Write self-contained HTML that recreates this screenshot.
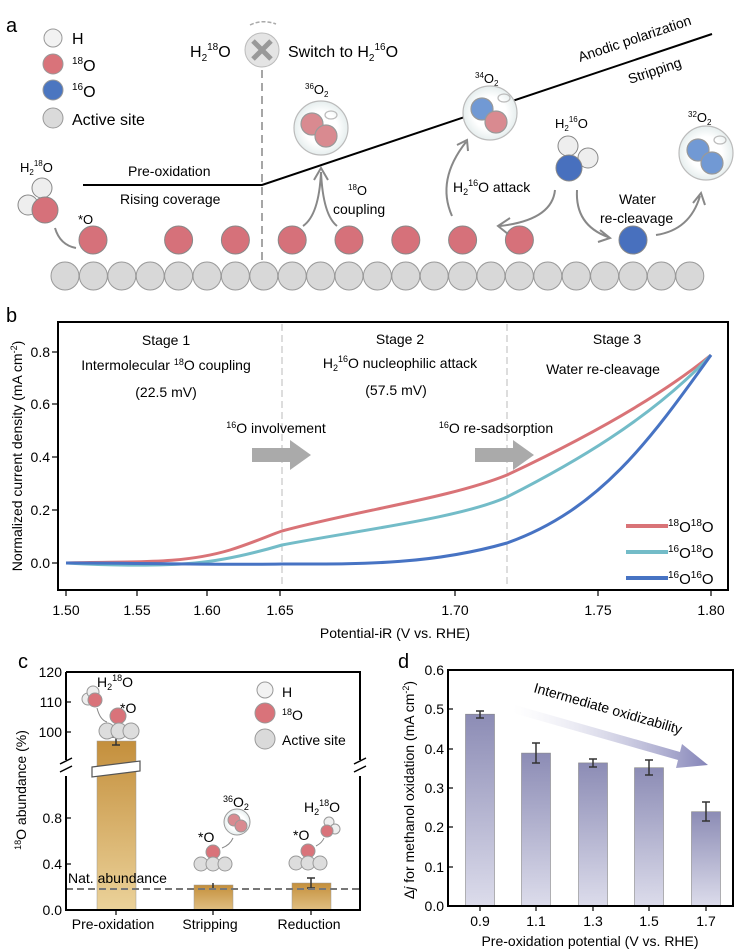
<!DOCTYPE html>
<html><head><meta charset="utf-8"><style>
body{margin:0;background:#fff}
svg{display:block;font-family:"Liberation Sans",sans-serif}
</style></head><body>
<svg width="748" height="952" viewBox="0 0 748 952" xmlns="http://www.w3.org/2000/svg">
<defs>
<radialGradient id="bub" cx="50%" cy="50%" r="50%"><stop offset="0.6" stop-color="#fff"/><stop offset="1" stop-color="#e6eeee"/></radialGradient>
<linearGradient id="gold" x1="0" y1="0" x2="0" y2="1"><stop offset="0" stop-color="#c48f3c"/><stop offset="1" stop-color="#ebd29a"/></linearGradient>
<linearGradient id="gold2" x1="0" y1="0" x2="0" y2="1"><stop offset="0" stop-color="#c48f3c"/><stop offset="1" stop-color="#e0bf82"/></linearGradient>
<linearGradient id="pur" x1="0" y1="0" x2="0" y2="1"><stop offset="0" stop-color="#8c8cb5"/><stop offset="1" stop-color="#dcdceb"/></linearGradient>
<linearGradient id="arr" x1="0" y1="0" x2="1" y2="0"><stop offset="0" stop-color="#fff" stop-opacity="0.3"/><stop offset="1" stop-color="#8484b8"/></linearGradient>
</defs>

<!-- ===== Panel a ===== -->
<text x="6" y="32" font-size="20">a</text>
<g stroke="#999" stroke-width="1">
<circle cx="53" cy="38" r="9" fill="#f2f2f2"/>
<circle cx="53" cy="64" r="10" fill="#d9737a"/>
<circle cx="53" cy="90" r="10" fill="#4b76c0"/>
<circle cx="53" cy="118" r="10" fill="#dadada"/>
</g>
<g font-size="16">
<text x="72" y="44">H</text>
<text x="72" y="71"><tspan font-size="10" dy="-7">18</tspan><tspan dy="7">O</tspan></text>
<text x="72" y="97"><tspan font-size="10" dy="-7">16</tspan><tspan dy="7">O</tspan></text>
<text x="72" y="125">Active site</text>
</g>
<g fill="#d8d8d8" stroke="#999" stroke-width="1">
<circle cx="65" cy="276" r="14"/><circle cx="93.4" cy="276" r="14"/><circle cx="121.8" cy="276" r="14"/><circle cx="150.2" cy="276" r="14"/><circle cx="178.6" cy="276" r="14"/><circle cx="207" cy="276" r="14"/><circle cx="235.4" cy="276" r="14"/><circle cx="263.8" cy="276" r="14"/><circle cx="292.2" cy="276" r="14"/><circle cx="320.6" cy="276" r="14"/><circle cx="349" cy="276" r="14"/><circle cx="377.4" cy="276" r="14"/><circle cx="405.8" cy="276" r="14"/><circle cx="434.2" cy="276" r="14"/><circle cx="462.6" cy="276" r="14"/><circle cx="491" cy="276" r="14"/><circle cx="519.4" cy="276" r="14"/><circle cx="547.8" cy="276" r="14"/><circle cx="576.2" cy="276" r="14"/><circle cx="604.6" cy="276" r="14"/><circle cx="633" cy="276" r="14"/><circle cx="661.4" cy="276" r="14"/><circle cx="689.8" cy="276" r="14"/>
</g>
<g fill="#d6717a" stroke="#888" stroke-width="1">
<circle cx="93" cy="240" r="14"/><circle cx="178.6" cy="240" r="14"/><circle cx="235.4" cy="240" r="14"/><circle cx="292.2" cy="240" r="14"/><circle cx="349" cy="240" r="14"/><circle cx="405.8" cy="240" r="14"/><circle cx="462.6" cy="240" r="14"/><circle cx="519.4" cy="240" r="14"/>
</g>
<circle cx="633" cy="240" r="14" fill="#4870be" stroke="#888"/>
<polyline points="83,185 262,185 712,34" fill="none" stroke="#000" stroke-width="2"/>
<line x1="262" y1="70" x2="262" y2="262" stroke="#888" stroke-width="1.5" stroke-dasharray="8,5"/>
<circle cx="262" cy="50" r="17" fill="#e4e4e4" stroke="#bbb"/>
<path d="M253 41 L271 59 M271 41 L253 59" stroke="#999" stroke-width="5"/>
<path d="M250 25 Q262 19 276 24" fill="none" stroke="#aaa" stroke-width="1.5" stroke-dasharray="4,2"/>
<g font-size="16">
<text x="190" y="57">H<tspan font-size="10" dy="4">2</tspan><tspan font-size="10" dy="-11">18</tspan><tspan dy="7">O</tspan></text>
<text x="288" y="57">Switch to H<tspan font-size="10" dy="4">2</tspan><tspan font-size="10" dy="-11">16</tspan><tspan dy="7">O</tspan></text>
</g>
<g font-size="14">
<text x="128" y="176">Pre-oxidation</text>
<text x="120" y="204">Rising coverage</text>
<text x="20" y="172" font-size="13">H<tspan font-size="8" dy="3">2</tspan><tspan font-size="8" dy="-9">18</tspan><tspan dy="6">O</tspan></text>
<text x="78" y="224" font-size="13">*O</text>
<text transform="translate(580,62) rotate(-18.6)">Anodic polarization</text>
<text transform="translate(630,84) rotate(-18.6)">Stripping</text>
<text x="348" y="195" font-size="13"><tspan font-size="8" dy="-5">18</tspan><tspan dy="5">O</tspan></text>
<text x="333" y="214">coupling</text>
<text x="453" y="192">H<tspan font-size="9" dy="3">2</tspan><tspan font-size="9" dy="-9">16</tspan><tspan dy="6">O  attack</tspan></text>
<text x="619" y="204">Water</text>
<text x="600" y="223">re-cleavage</text>
<text x="305" y="94" font-size="13"><tspan font-size="8" dy="-5">36</tspan><tspan dy="5">O</tspan><tspan font-size="8" dy="3">2</tspan></text>
<text x="475" y="83" font-size="13"><tspan font-size="8" dy="-5">34</tspan><tspan dy="5">O</tspan><tspan font-size="8" dy="3">2</tspan></text>
<text x="688" y="122" font-size="13"><tspan font-size="8" dy="-5">32</tspan><tspan dy="5">O</tspan><tspan font-size="8" dy="3">2</tspan></text>
<text x="555" y="128" font-size="13">H<tspan font-size="8" dy="3">2</tspan><tspan font-size="8" dy="-9">16</tspan><tspan dy="6">O</tspan></text>
</g>
<g stroke="#888" stroke-width="1">
<circle cx="42" cy="188" r="10" fill="#eee"/><circle cx="28" cy="205" r="10" fill="#eee"/><circle cx="45" cy="210" r="13" fill="#d6717a"/>
<circle cx="568" cy="146" r="10" fill="#eee"/><circle cx="588" cy="158" r="10" fill="#eee"/><circle cx="569" cy="168" r="13" fill="#4870be"/>
</g>
<g stroke="#bbb" stroke-width="1.2">
<circle cx="321" cy="128" r="27" fill="url(#bub)"/><circle cx="312" cy="124" r="11" fill="#d98a90" stroke="#999"/><circle cx="326" cy="136" r="11" fill="#d98a90" stroke="#999"/><ellipse cx="331" cy="115" rx="6" ry="4" fill="none"/>
<circle cx="490" cy="113" r="27" fill="url(#bub)"/><circle cx="482" cy="109" r="11" fill="#7199d4" stroke="#999"/><circle cx="496" cy="122" r="11" fill="#d98a90" stroke="#999"/><ellipse cx="504" cy="98" rx="6" ry="4" fill="none"/>
<circle cx="706" cy="153" r="27" fill="url(#bub)"/><circle cx="698" cy="150" r="11" fill="#7199d4" stroke="#999"/><circle cx="712" cy="163" r="11" fill="#7199d4" stroke="#999"/><ellipse cx="720" cy="140" rx="6" ry="4" fill="none"/>
</g>
<g fill="none" stroke="#888" stroke-width="2">
<path d="M55 228 Q60 245 76 248"/>
<path d="M303 226 Q319 215 321 172 M337 226 Q323 215 321 172 M314 180 L321 168 L328 180"/>
<path d="M452 216 Q436 180 466 142 M457 145 L467 140 L468 151"/>
<path d="M555 190 Q552 220 500 226 M510 218 L498 226 L508 234"/>
<path d="M577 190 Q575 225 608 237 M600 230 L610 238 L598 242"/>
<path d="M656 235 Q690 230 700 196 M693 203 L701 193 L705 205"/>
</g>

<!-- ===== Panel b ===== -->
<text x="6" y="322" font-size="20">b</text>
<rect x="58" y="322" width="670" height="268" fill="none" stroke="#000" stroke-width="2"/>
<g stroke="#000" stroke-width="1.2">
<line x1="66" y1="590" x2="66" y2="596"/><line x1="137" y1="590" x2="137" y2="596"/><line x1="207" y1="590" x2="207" y2="596"/><line x1="280" y1="590" x2="280" y2="596"/><line x1="455" y1="590" x2="455" y2="596"/><line x1="598" y1="590" x2="598" y2="596"/><line x1="711" y1="590" x2="711" y2="596"/>
<line x1="52" y1="352" x2="58" y2="352"/><line x1="52" y1="404" x2="58" y2="404"/><line x1="52" y1="457" x2="58" y2="457"/><line x1="52" y1="510" x2="58" y2="510"/><line x1="52" y1="563" x2="58" y2="563"/>
</g>
<g font-size="14" text-anchor="middle">
<text x="66" y="615">1.50</text><text x="137" y="615">1.55</text><text x="207" y="615">1.60</text><text x="280" y="615">1.65</text><text x="455" y="615">1.70</text><text x="598" y="615">1.75</text><text x="711" y="615">1.80</text>
<text x="395" y="638">Potential-iR (V vs. RHE)</text>
</g>
<g font-size="14" text-anchor="end">
<text x="50" y="357">0.8</text><text x="50" y="409">0.6</text><text x="50" y="462">0.4</text><text x="50" y="515">0.2</text><text x="50" y="568">0.0</text>
</g>
<text transform="translate(22,456) rotate(-90)" font-size="14" text-anchor="middle">Normalized current density (mA cm<tspan font-size="9" dy="-5">-2</tspan><tspan dy="5">)</tspan></text>
<line x1="282" y1="324" x2="282" y2="588" stroke="#bbb" stroke-dasharray="7,4"/>
<line x1="507" y1="324" x2="507" y2="588" stroke="#bbb" stroke-dasharray="7,4"/>
<g font-size="14" text-anchor="middle">
<text x="166" y="345">Stage 1</text><text x="166" y="370">Intermolecular <tspan font-size="9" dy="-5">18</tspan><tspan dy="5">O coupling</tspan></text><text x="166" y="397">(22.5 mV)</text>
<text x="400" y="344">Stage 2</text><text x="400" y="368">H<tspan font-size="9" dy="3">2</tspan><tspan font-size="9" dy="-9">16</tspan><tspan dy="6">O nucleophilic attack</tspan></text><text x="396" y="395">(57.5 mV)</text>
<text x="617" y="344">Stage 3</text><text x="603" y="374">Water re-cleavage</text>
<text x="276" y="433"><tspan font-size="9" dy="-5">16</tspan><tspan dy="5">O involvement</tspan></text>
<text x="496" y="433"><tspan font-size="9" dy="-5">16</tspan><tspan dy="5">O re-sadsorption</tspan></text>
</g>
<path d="M252 448 H290 V440 L311 455 L290 470 V462 H252Z" fill="#aaa"/>
<path d="M475 448 H513 V440 L534 455 L513 470 V462 H475Z" fill="#aaa"/>
<g fill="none" stroke-width="3">
<path d="M66 563 C130 561 180 565 230 550 C255 542 270 535 282 531 C360 510 450 498 507 475 C560 450 650 405 711 355" stroke="#d97377"/>
<path d="M66 563 C120 566 160 566 195 563 C230 560 265 550 282 545 C360 530 460 518 507 497 C570 465 650 420 711 355" stroke="#73bcc8"/>
<path d="M66 563 C150 563 220 565 282 564 C360 564 430 565 507 543 C600 510 650 440 711 355" stroke="#4773c3"/>
</g>
<g stroke-width="4">
<line x1="626" y1="526" x2="668" y2="526" stroke="#d97377"/>
<line x1="626" y1="552" x2="668" y2="552" stroke="#73bcc8"/>
<line x1="626" y1="578" x2="668" y2="578" stroke="#4773c3"/>
</g>
<g font-size="15">
<text x="668" y="532"><tspan font-size="10" dy="-6">18</tspan><tspan dy="6">O</tspan><tspan font-size="10" dy="-6">18</tspan><tspan dy="6">O</tspan></text>
<text x="668" y="558"><tspan font-size="10" dy="-6">16</tspan><tspan dy="6">O</tspan><tspan font-size="10" dy="-6">18</tspan><tspan dy="6">O</tspan></text>
<text x="668" y="584"><tspan font-size="10" dy="-6">16</tspan><tspan dy="6">O</tspan><tspan font-size="10" dy="-6">16</tspan><tspan dy="6">O</tspan></text>
</g>

<!-- ===== Panel c ===== -->
<text x="18" y="668" font-size="20">c</text>
<rect x="97" y="741" width="39" height="169" fill="url(#gold)" stroke="#999" stroke-width="0.5"/>
<rect x="194" y="885" width="39" height="25" fill="url(#gold2)" stroke="#999" stroke-width="0.5"/>
<rect x="292" y="883" width="39" height="27" fill="url(#gold2)" stroke="#999" stroke-width="0.5"/>
<path d="M92 767 L140 761 L140 771 L92 777Z" fill="#fff" stroke="#555" stroke-width="1.2"/>
<g stroke="#333" stroke-width="1.5">
<line x1="116" y1="737" x2="116" y2="745"/><line x1="112" y1="737" x2="120" y2="737"/><line x1="112" y1="745" x2="120" y2="745"/>
<line x1="213" y1="883" x2="213" y2="888"/>
<line x1="311" y1="878" x2="311" y2="888"/><line x1="307" y1="878" x2="315" y2="878"/><line x1="307" y1="888" x2="315" y2="888"/>
</g>
<line x1="66" y1="889" x2="360" y2="889" stroke="#777" stroke-width="2" stroke-dasharray="7,4"/>
<path d="M66 672 V760 M66 776 V910 H360 V776 M360 760 V672 H66" fill="none" stroke="#000" stroke-width="2"/>
<path d="M60 764 L72 758 M60 772 L72 766 M354 764 L366 758 M354 772 L366 766" stroke="#000" stroke-width="1.5"/>
<g stroke="#000" stroke-width="1.2">
<line x1="66" y1="702" x2="71" y2="702"/><line x1="66" y1="732" x2="71" y2="732"/><line x1="66" y1="818" x2="71" y2="818"/><line x1="66" y1="864" x2="71" y2="864"/>
<line x1="116" y1="910" x2="116" y2="915"/><line x1="213" y1="910" x2="213" y2="915"/><line x1="311" y1="910" x2="311" y2="915"/>
</g>
<g font-size="14" text-anchor="end">
<text x="62" y="677">120</text><text x="62" y="707">110</text><text x="62" y="737">100</text><text x="62" y="823">0.8</text><text x="62" y="869">0.4</text><text x="62" y="915">0.0</text>
</g>
<text transform="translate(26,790) rotate(-90)" font-size="14" text-anchor="middle"><tspan font-size="9" dy="-5">18</tspan><tspan dy="5">O abundance (%)</tspan></text>
<g font-size="14" text-anchor="middle">
<text x="113" y="929">Pre-oxidation</text><text x="210" y="929">Stripping</text><text x="309" y="929">Reduction</text>
</g>
<text x="68" y="883" font-size="14">Nat. abundance</text>
<g stroke="#999" stroke-width="1">
<circle cx="265" cy="690" r="8" fill="#f2f2f2"/><circle cx="265" cy="713" r="10" fill="#d9737a"/><circle cx="265" cy="739" r="10" fill="#dadada"/>
<circle cx="88" cy="699" r="6" fill="#eee"/><circle cx="93" cy="692" r="6" fill="#eee"/><circle cx="95" cy="700" r="7" fill="#d9737a"/>
<circle cx="118" cy="716" r="8" fill="#d9737a"/><circle cx="107" cy="731" r="8" fill="#ddd"/><circle cx="119" cy="731" r="8" fill="#ddd"/><circle cx="131" cy="731" r="8" fill="#ddd"/>
<circle cx="213" cy="852" r="7" fill="#d9737a"/><circle cx="201" cy="864" r="7" fill="#ddd"/><circle cx="213" cy="864" r="7" fill="#ddd"/><circle cx="225" cy="864" r="7" fill="#ddd"/>
<circle cx="237" cy="822" r="13" fill="url(#bub)"/><circle cx="234" cy="820" r="6" fill="#d98a90"/><circle cx="241" cy="826" r="6" fill="#d98a90"/>
<circle cx="308" cy="851" r="7" fill="#d9737a"/><circle cx="296" cy="863" r="7" fill="#ddd"/><circle cx="308" cy="863" r="7" fill="#ddd"/><circle cx="320" cy="863" r="7" fill="#ddd"/>
<circle cx="329" cy="822" r="5" fill="#eee"/><circle cx="335" cy="829" r="5" fill="#eee"/><circle cx="327" cy="831" r="6" fill="#d9737a"/>
</g>
<g fill="none" stroke="#888"><path d="M97 708 Q100 720 107 722"/><path d="M222 848 Q230 845 233 838"/><path d="M316 846 Q322 843 324 838"/></g>
<g font-size="14">
<text x="282" y="697">H</text><text x="282" y="720"><tspan font-size="9" dy="-5">18</tspan><tspan dy="5">O</tspan></text><text x="282" y="745">Active site</text>
<text x="97" y="687">H<tspan font-size="9" dy="3">2</tspan><tspan font-size="9" dy="-9">18</tspan><tspan dy="6">O</tspan></text>
<text x="120" y="713">*O</text>
<text x="223" y="807"><tspan font-size="9" dy="-5">36</tspan><tspan dy="5">O</tspan><tspan font-size="9" dy="3">2</tspan></text>
<text x="198" y="842">*O</text><text x="293" y="840">*O</text>
<text x="304" y="812">H<tspan font-size="9" dy="3">2</tspan><tspan font-size="9" dy="-9">18</tspan><tspan dy="6">O</tspan></text>
</g>

<!-- ===== Panel d ===== -->
<text x="398" y="668" font-size="20">d</text>
<g fill="url(#pur)" stroke="#888" stroke-width="0.6">
<rect x="465.5" y="714.2" width="29" height="191.8"/>
<rect x="521.5" y="753.1" width="29" height="152.9"/>
<rect x="578.5" y="762.9" width="29" height="143.1"/>
<rect x="634.5" y="767.7" width="29" height="138.3"/>
<rect x="691.5" y="811.7" width="29" height="94.3"/>
</g>
<g stroke="#333" stroke-width="1.5">
<path d="M480 711 V718 M476 711 H484 M476 718 H484"/>
<path d="M536 743 V763 M532 743 H540 M532 763 H540"/>
<path d="M593 759 V767 M589 759 H597 M589 767 H597"/>
<path d="M649 760 V775 M645 760 H653 M645 775 H653"/>
<path d="M706 802 V821 M702 802 H710 M702 821 H710"/>
</g>
<path d="M515 705 L680 752 L682 744 L708 765 L676 768 L678 760 L513 713Z" fill="url(#arr)"/>
<text transform="translate(533,692) rotate(16)" font-size="14">Intermediate oxidizability</text>
<rect x="448" y="670" width="285" height="236" fill="none" stroke="#000" stroke-width="2"/>
<g stroke="#000" stroke-width="1.2">
<line x1="448" y1="709" x2="453" y2="709"/><line x1="448" y1="749" x2="453" y2="749"/><line x1="448" y1="788" x2="453" y2="788"/><line x1="448" y1="827" x2="453" y2="827"/><line x1="448" y1="867" x2="453" y2="867"/>
<line x1="480" y1="906" x2="480" y2="911"/><line x1="536" y1="906" x2="536" y2="911"/><line x1="593" y1="906" x2="593" y2="911"/><line x1="649" y1="906" x2="649" y2="911"/><line x1="706" y1="906" x2="706" y2="911"/>
</g>
<g font-size="14" text-anchor="end">
<text x="444" y="675">0.6</text><text x="444" y="714">0.5</text><text x="444" y="754">0.4</text><text x="444" y="793">0.3</text><text x="444" y="832">0.2</text><text x="444" y="872">0.1</text><text x="444" y="911">0.0</text>
</g>
<g font-size="14" text-anchor="middle">
<text x="480" y="926">0.9</text><text x="536" y="926">1.1</text><text x="593" y="926">1.3</text><text x="649" y="926">1.5</text><text x="706" y="926">1.7</text>
<text x="590" y="946">Pre-oxidation potential (V vs. RHE)</text>
</g>
<text transform="translate(414,790) rotate(-90)" font-size="14" text-anchor="middle">Δ<tspan font-style="italic">j</tspan> for methanol oxidation (mA cm<tspan font-size="9" dy="-5">-2</tspan><tspan dy="5">)</tspan></text>
</svg>
</body></html>
